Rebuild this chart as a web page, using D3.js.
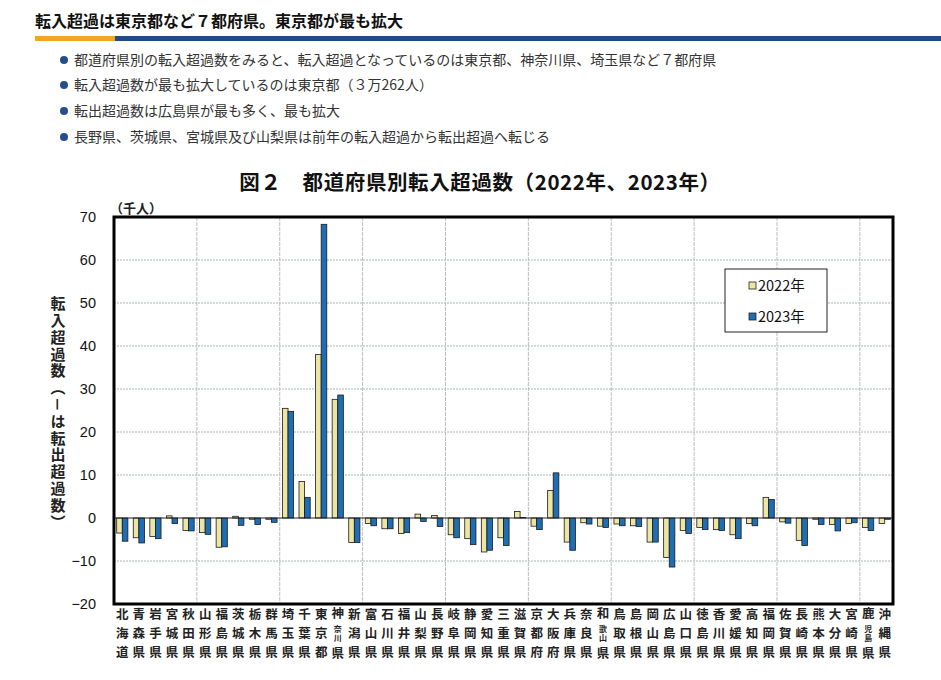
<!DOCTYPE html>
<html><head><meta charset="utf-8">
<script src="https://cdn.jsdelivr.net/npm/d3@7"></script>
<style>
body{margin:0;background:#fff;}
svg text{font-family:"Noto Sans CJK JP","Noto Sans",sans-serif;}
</style></head>
<body><svg id="c" width="941" height="680"></svg>
<script>
const headline = "転入超過は東京都など７都府県。東京都が最も拡大";
const bullets = [
  "都道府県別の転入超過数をみると、転入超過となっているのは東京都、神奈川県、埼玉県など７都府県",
  "転入超過数が最も拡大しているのは東京都（３万262人）",
  "転出超過数は広島県が最も多く、最も拡大",
  "長野県、茨城県、宮城県及び山梨県は前年の転入超過から転出超過へ転じる"
];
const chartTitle = "図２　都道府県別転入超過数（2022年、2023年）";
const yLabel = "転入超過数（－は転出超過数）";
const unitLabel = "（千人）";
const seriesNames = ["2022年","2023年"];
const prefectures = ["北海道","青森県","岩手県","宮城県","秋田県","山形県","福島県","茨城県","栃木県","群馬県",
 "埼玉県","千葉県","東京都","神奈川県","新潟県","富山県","石川県","福井県","山梨県","長野県",
 "岐阜県","静岡県","愛知県","三重県","滋賀県","京都府","大阪府","兵庫県","奈良県","和歌山県",
 "鳥取県","島根県","岡山県","広島県","山口県","徳島県","香川県","愛媛県","高知県","福岡県",
 "佐賀県","長崎県","熊本県","大分県","宮崎県","鹿児島県","沖縄県"];
const v2022 = [-3.5,-4.6,-4.3,0.5,-2.9,-3.4,-6.8,0.4,-0.3,-0.3,
 25.5,8.5,38.0,27.6,-5.7,-1.3,-2.5,-3.6,0.9,0.6,
 -3.9,-4.8,-7.9,-4.6,1.5,-1.9,6.4,-5.6,-1.1,-1.9,
 -1.4,-1.8,-5.6,-9.2,-2.9,-2.2,-2.7,-3.9,-1.3,4.8,
 -0.9,-5.2,-0.3,-1.5,-1.3,-2.2,-1.3];
const v2023 = [-5.4,-5.8,-4.8,-1.3,-3.0,-3.8,-6.7,-1.7,-1.5,-1.0,
 24.8,4.8,68.3,28.6,-5.7,-1.8,-2.5,-3.4,-0.8,-2.0,
 -4.6,-6.2,-7.5,-6.4,0.1,-2.7,10.5,-7.5,-1.4,-2.2,
 -1.8,-2.0,-5.6,-11.4,-3.6,-2.7,-2.9,-4.8,-1.8,4.3,
 -1.2,-6.4,-1.5,-3.0,-1.1,-2.9,-0.3];
const yTicks = [-20,-10,0,10,20,30,40,50,60,70];
const colors = ["#ECE6A2","#1D6EB5"];

const svg = d3.select("#c");
// header
svg.append("text").attr("x",35).attr("y",21).attr("dy","0.35em")
  .attr("font-size",16).attr("font-weight","bold").attr("fill","#111").text(headline);
svg.append("rect").attr("x",35).attr("y",36).attr("width",80).attr("height",5).attr("fill","#F2A51E");
svg.append("rect").attr("x",115).attr("y",36).attr("width",826).attr("height",5).attr("fill","#1F4C86");
const by = [60,85,111,137];
bullets.forEach((b,i)=>{
  svg.append("circle").attr("cx",64).attr("cy",by[i]).attr("r",4).attr("fill","#264E8A");
  svg.append("text").attr("x",74).attr("y",by[i]).attr("dy","0.35em").attr("font-size",14)
    .attr("fill","#333").text(b);
});
svg.append("text").attr("x",480).attr("y",183).attr("dy","0.35em").attr("text-anchor","middle")
  .attr("font-size",20.5).attr("font-weight","bold").attr("fill","#111").attr("letter-spacing",0.6).text(chartTitle);

// plot
const L=114,R=893,T=217,B=604;
const x = d3.scaleBand().domain(prefectures).range([L,R]).padding(0);
const y = d3.scaleLinear().domain([-20,70]).range([B,T]);
const bw = x.bandwidth();
const barW = 5.6;
const x1 = d3.scaleBand().domain(seriesNames).range([bw/2-barW,bw/2+barW]).padding(0);

const g = svg.append("g");
// horizontal grid
g.selectAll(".hg").data(yTicks.filter(t=>t!==0 && t!==70 && t!==-20)).enter().append("line")
  .attr("x1",L).attr("x2",R).attr("y1",d=>y(d)).attr("y2",d=>y(d))
  .attr("stroke","#a9b5a9").attr("stroke-width",1).attr("stroke-dasharray","2,1");
// vertical grid every 5 categories
const vg = d3.range(5,47,5);
g.selectAll(".vg").data(vg).enter().append("line")
  .attr("x1",d=>x(prefectures[d])).attr("x2",d=>x(prefectures[d]))
  .attr("y1",T).attr("y2",B).attr("stroke","#bdbdbd").attr("stroke-width",1).attr("stroke-dasharray","4,1");

// bars
const series = [v2022,v2023];
series.forEach((vals,si)=>{
  g.selectAll(".b"+si).data(vals).enter().append("rect")
    .attr("x",(d,i)=>x(prefectures[i])+x1(seriesNames[si]))
    .attr("width",x1.bandwidth())
    .attr("y",d=>y(Math.max(0,d)))
    .attr("height",d=>Math.abs(y(d)-y(0)))
    .attr("fill",colors[si]).attr("stroke","#1a1a1a").attr("stroke-width",0.8);
});
// zero line
g.append("line").attr("x1",L).attr("x2",R).attr("y1",y(0)).attr("y2",y(0)).attr("stroke","#222").attr("stroke-width",1);
// frame
g.append("rect").attr("x",L).attr("y",T).attr("width",R-L).attr("height",B-T)
  .attr("fill","none").attr("stroke","#000").attr("stroke-width",3);

// y axis
const ya = svg.append("g").attr("transform",`translate(${L},0)`)
  .call(d3.axisLeft(y).tickValues(yTicks).tickSize(0).tickPadding(18));
ya.select(".domain").remove();
ya.selectAll("text").attr("font-size",14.5).attr("fill","#111")
  .style("font-family","'Liberation Sans',Arial,sans-serif");
svg.append("text").attr("x",110).attr("y",208).attr("dy","0.35em").attr("font-size",13)
  .attr("font-weight","bold").attr("fill","#222").text(unitLabel);
svg.append("text").attr("x",58).attr("y",296).attr("font-size",15).attr("font-weight","bold")
  .attr("fill","#222").style("writing-mode","vertical-rl").attr("letter-spacing",1.8).text(yLabel);

// x labels
const rows=[615,634,653];
prefectures.forEach(p=>{
  const cx = x(p)+bw/2;
  const ch = Array.from(p);
  let pos;
  if(ch.length===3) pos = ch.map((c,i)=>({c,y:rows[i],s:12.5}));
  else pos = [{c:ch[0],y:613.5,s:12.5},{c:ch[1],y:629,s:8},{c:ch[2],y:638.5,s:8},{c:ch[3],y:654,s:12.5}];
  pos.forEach(o=>{
    svg.append("text").attr("x",cx).attr("y",o.y).attr("dy","0.35em").attr("text-anchor","middle")
      .attr("font-size",o.s).attr("font-weight","bold").attr("fill","#222").text(o.c);
  });
});

// legend
const lg = svg.append("g");
lg.append("rect").attr("x",725).attr("y",269).attr("width",102).attr("height",63)
  .attr("fill","#fff").attr("stroke","#222").attr("stroke-width",1);
seriesNames.forEach((s,i)=>{
  const ly = [285.5,316.5][i];
  lg.append("rect").attr("x",749).attr("y",ly-3.5).attr("width",7).attr("height",7)
    .attr("fill",colors[i]).attr("stroke","#222").attr("stroke-width",0.8);
  lg.append("text").attr("x",758).attr("y",ly).attr("dy","0.35em").attr("font-size",14.5)
    .attr("fill","#111").text(s);
});
</script></body></html>
